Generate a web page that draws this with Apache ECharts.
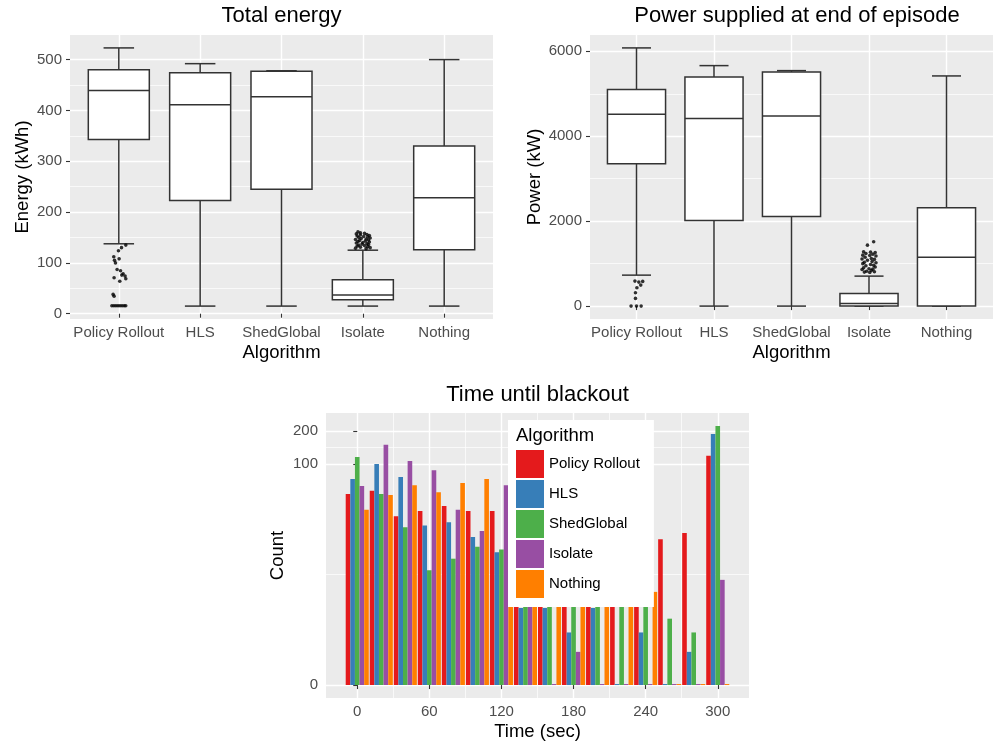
<!DOCTYPE html>
<html>
<head>
<meta charset="utf-8">
<script src="https://cdn.jsdelivr.net/npm/echarts@6/dist/echarts.min.js"></script>
<style>
html,body{margin:0;padding:0;background:#fff;}
#chart{width:998px;height:745px;}
</style>
</head>
<body>
<div id="chart"></div>
<script>
// ---------- DATA ----------
const categories = ['Policy Rollout', 'HLS', 'ShedGlobal', 'Isolate', 'Nothing'];

// Total energy (kWh) box statistics
const energyLow    = [137.6, 15, 15, 15, 15];
const energyQ1     = [343, 223, 245, 27.5, 126];
const energyMedian = [439, 411, 427, 36.6, 228];
const energyQ3     = [480, 474, 477, 67, 330];
const energyHigh   = [523, 492, 478, 125, 500];

// Energy outliers (value, jitter in category units)
const energyPolicyOutliers = [135, 130, 124, 112, 108, 105, 100, 87, 84.5, 78.6, 74, 76, 70.8, 64, 68.8, 38, 34.6, 15.7, 15.7, 15.7, 15.7, 15.7, 15.7, 15.7, 15.7];
const energyPolicyJitter   = [0.086, 0.033, -0.004, -0.062, 0.004, -0.053, -0.041, -0.021, 0.021, 0.053, 0.077, 0.037, -0.058, 0.012, 0.086, -0.070, -0.058, -0.085, -0.06, -0.035, -0.01, 0.015, 0.04, 0.065, 0.085];
const energyIsolateOutliers = [161, 159, 158, 157, 156, 155, 154, 153, 152, 151, 150, 149, 148, 147, 146, 145, 144, 143, 142, 141, 140, 139, 138, 137, 136, 135, 134, 133, 132, 131, 130, 129, 128];
const energyIsolateJitter   = [-0.06, -0.03, 0.02, -0.08, 0.05, -0.03, 0.08, -0.07, 0.01, 0.06, -0.05, 0.09, -0.02, 0.04, -0.09, 0.07, -0.04, 0.03, -0.06, 0.08, 0.00, -0.08, 0.05, -0.01, 0.07, -0.05, 0.02, -0.07, 0.06, -0.03, 0.09, -0.09, 0.04];

// Power supplied (kW) box statistics
const powerLow    = [729, 0, 0, 0, 0];
const powerQ1     = [3350, 2016, 2110, 0, 0];
const powerMedian = [4518, 4416, 4478, 60, 1153];
const powerQ3     = [5099, 5396, 5514, 295, 2315];
const powerHigh   = [6080, 5663, 5545, 706, 5420];

const powerPolicyOutliers = [588, 565, 581, 494, 431, 315, 181, 0, 0, 0];
const powerPolicyJitter   = [-0.02, 0.03, 0.08, 0.055, 0.005, -0.013, -0.013, -0.07, 0.0, 0.06];
const powerIsolateOutliers = [1515, 1435, 1280, 1270, 1260, 1240, 1220, 1200, 1190, 1180, 1150, 1120, 1110, 1100, 1080, 1050, 1030, 1020, 1000, 980, 960, 950, 920, 900, 880, 870, 860, 840, 820, 810, 800, 790];
const powerIsolateJitter   = [0.06, -0.02, -0.07, 0.02, 0.08, -0.04, 0.05, -0.08, 0.01, 0.09, -0.05, 0.03, -0.09, 0.07, -0.02, 0.04, -0.06, 0.09, -0.08, 0.02, 0.06, -0.04, 0.08, -0.07, 0.0, 0.05, -0.09, 0.03, -0.03, 0.07, -0.06, 0.01];

// Time until blackout histogram (bin centres in sec, counts)
const binCenters   = [0, 20, 40, 60, 80, 100, 120, 140, 160, 180, 200, 220, 240, 260, 280, 300];
const countsPolicy = [53, 57, 33, 37, 41, 37, 37, 30, 28, 26, 24, 22, 21, 20, 23, 119];
const countsHLS    = [73, 100, 76, 27, 29, 21, 15, 4, 4, 2, 4, 0, 2, 0, 1, 188];
const countsShed   = [116, 53, 26, 10, 13, 17, 16, 12, 10, 9, 8, 7, 6, 3, 2, 223];
const countsIsolate= [63, 150, 107, 88, 38, 24, 64, 12, 0, 1, 0, 0, 0, 0, 0, 8];
const countsNothing= [38, 52, 64, 55, 67, 73, 66, 55, 45, 35, 25, 15, 6, 0, 0, 0];

// Tick labels
const energyTicks = [0, 100, 200, 300, 400, 500];
const energyMinor = [50, 150, 250, 350, 450];
const powerTicks  = [0, 2000, 4000, 6000];
const powerMinor  = [1000, 3000, 5000];
const timeTicks   = [0, 60, 120, 180, 240, 300];
const timeMinor   = [30, 90, 150, 210, 270];
const countTicks  = [0, 100, 200];

// ---------- BUILD ----------
const colors = ['#E41A1C', '#377EB8', '#4DAF4A', '#984EA3', '#FF7F00'];
const FONT = '"Liberation Sans", Arial, Helvetica, sans-serif';
const catPos = categories.map((c, i) => i + 1);

// log1p transform for the count axis
const tr = v => Math.log1p(v);
const countTickPos = countTicks.map(tr);
const countAll = [].concat(countsPolicy, countsHLS, countsShed, countsIsolate, countsNothing);
const tMax = tr(Math.max.apply(null, countAll));
const countMin = -0.05 * tMax, countMax = tMax * 1.05;
// minor breaks: midpoints in transformed space
const countMinor = [];
for (let i = 0; i < countTickPos.length - 1; i++) countMinor.push((countTickPos[i] + countTickPos[i + 1]) / 2);

function boxData(lo, q1, md, q3, hi) {
  return catPos.map((x, i) => [x, lo[i], q1[i], md[i], q3[i], hi[i]]);
}
function jitterData(idx, vals, jit) {
  return vals.map((v, i) => [idx + jit[i], v]);
}

function renderBox(params, api) {
  const x = api.value(0);
  const lo = api.coord([x, api.value(1)]);
  const q1 = api.coord([x, api.value(2)]);
  const md = api.coord([x, api.value(3)]);
  const q3 = api.coord([x, api.value(4)]);
  const hi = api.coord([x, api.value(5)]);
  const bw = api.size([0.75, 0])[0];
  const cw = api.size([0.375, 0])[0];
  const ls = { stroke: '#333333', lineWidth: 1.5, fill: null };
  return {
    type: 'group',
    children: [
      { type: 'line', shape: { x1: lo[0], y1: lo[1], x2: q1[0], y2: q1[1] }, style: ls },
      { type: 'line', shape: { x1: hi[0], y1: hi[1], x2: q3[0], y2: q3[1] }, style: ls },
      { type: 'line', shape: { x1: lo[0] - cw / 2, y1: lo[1], x2: lo[0] + cw / 2, y2: lo[1] }, style: ls },
      { type: 'line', shape: { x1: hi[0] - cw / 2, y1: hi[1], x2: hi[0] + cw / 2, y2: hi[1] }, style: ls },
      { type: 'rect', shape: { x: q3[0] - bw / 2, y: q3[1], width: bw, height: q1[1] - q3[1] },
        style: { fill: '#ffffff', stroke: '#333333', lineWidth: 1.5 } },
      { type: 'line', shape: { x1: md[0] - bw / 2, y1: md[1], x2: md[0] + bw / 2, y2: md[1] }, style: ls }
    ]
  };
}

const labelStyle = { color: '#4D4D4D', fontSize: 15, fontFamily: FONT };
const nameStyle = { color: '#000000', fontSize: 18.5, fontFamily: FONT };
const tickStyle = { show: true, length: 4, lineStyle: { color: '#333333', width: 1.1 } };
const majorSplit = { show: true, lineStyle: { color: '#FFFFFF', width: 1.4 } };
const minorSplit = { show: true, lineStyle: { color: '#FFFFFF', width: 0.7 } };
const plain = v => String(v);

function mainAxis(extra) {
  return Object.assign({
    type: 'value',
    axisLine: { show: false },
    splitArea: { show: false }
  }, extra);
}
function minorAxis(gridIndex, min, max, vals, pos) {
  return {
    type: 'value', gridIndex: gridIndex, min: min, max: max, position: pos,
    axisLine: { show: false },
    axisLabel: { show: false },
    axisTick: { show: false, customValues: vals },
    splitLine: minorSplit
  };
}

const catFormatter = v => categories[Math.round(v) - 1] || '';

const option = {
  animation: false,
  textStyle: { fontFamily: FONT },
  color: colors,
  grid: [
    { left: 70, top: 35, width: 423, height: 284, show: true, backgroundColor: '#EBEBEB', borderWidth: 0, outerBoundsMode: 'none' },
    { left: 590, top: 35, width: 403, height: 284, show: true, backgroundColor: '#EBEBEB', borderWidth: 0, outerBoundsMode: 'none' },
    { left: 326, top: 413, width: 423, height: 285, show: true, backgroundColor: '#EBEBEB', borderWidth: 0, outerBoundsMode: 'none' }
  ],
  xAxis: [
    mainAxis({ gridIndex: 0, min: 0.4, max: 5.6,
      axisTick: Object.assign({ customValues: catPos }, tickStyle),
      axisLabel: Object.assign({ customValues: catPos, formatter: catFormatter, margin: 6 }, labelStyle),
      splitLine: majorSplit,
      name: 'Algorithm', nameLocation: 'middle', nameGap: 24, nameTextStyle: nameStyle }),
    mainAxis({ gridIndex: 1, min: 0.4, max: 5.6,
      axisTick: Object.assign({ customValues: catPos }, tickStyle),
      axisLabel: Object.assign({ customValues: catPos, formatter: catFormatter, margin: 6 }, labelStyle),
      splitLine: majorSplit,
      name: 'Algorithm', nameLocation: 'middle', nameGap: 24, nameTextStyle: nameStyle }),
    mainAxis({ gridIndex: 2, min: -26, max: 326,
      axisTick: Object.assign({ customValues: timeTicks }, tickStyle),
      axisLabel: Object.assign({ customValues: timeTicks, margin: 6, formatter: plain }, labelStyle),
      splitLine: majorSplit,
      name: 'Time (sec)', nameLocation: 'middle', nameGap: 24, nameTextStyle: nameStyle }),
    minorAxis(2, -26, 326, timeMinor, 'bottom')
  ],
  yAxis: [
    mainAxis({ gridIndex: 0, min: -10.4, max: 548.4,
      axisTick: Object.assign({ customValues: energyTicks }, tickStyle),
      axisLabel: Object.assign({ customValues: energyTicks, margin: 8, formatter: plain }, labelStyle),
      splitLine: majorSplit,
      name: 'Energy (kWh)', nameLocation: 'middle', nameGap: 38, nameTextStyle: nameStyle }),
    minorAxis(0, -10.4, 548.4, energyMinor, 'left'),
    mainAxis({ gridIndex: 1, min: -304, max: 6384,
      axisTick: Object.assign({ customValues: powerTicks }, tickStyle),
      axisLabel: Object.assign({ customValues: powerTicks, margin: 8, formatter: plain }, labelStyle),
      splitLine: majorSplit,
      name: 'Power (kW)', nameLocation: 'middle', nameGap: 46, nameTextStyle: nameStyle }),
    minorAxis(1, -304, 6384, powerMinor, 'left'),
    mainAxis({ gridIndex: 2, min: countMin, max: countMax,
      axisTick: Object.assign({ customValues: countTickPos }, tickStyle),
      axisLabel: Object.assign({ customValues: countTickPos, margin: 8,
        formatter: v => String(Math.round(Math.expm1(v))) }, labelStyle),
      splitLine: majorSplit,
      name: 'Count', nameLocation: 'middle', nameGap: 39, nameTextStyle: nameStyle }),
    minorAxis(2, countMin, countMax, countMinor, 'left')
  ],
  legend: {
    show: true,
    orient: 'vertical',
    left: 508, top: 420,
    padding: [30, 14, 9, 8],
    itemWidth: 28, itemHeight: 28, itemGap: 2,
    icon: 'rect',
    selectedMode: false,
    backgroundColor: '#FFFFFF',
    textStyle: { color: '#000000', fontSize: 15, fontFamily: FONT },
    data: categories
  },
  graphic: [
    { type: 'text', x: 281.5, y: 15.5, z: 100,
      style: { text: 'Total energy', font: '22px ' + FONT, fill: '#000', textAlign: 'center', textVerticalAlign: 'middle', align: 'center', verticalAlign: 'middle' } },
    { type: 'text', x: 797, y: 15.5, z: 100,
      style: { text: 'Power supplied at end of episode', font: '22px ' + FONT, fill: '#000', textAlign: 'center', textVerticalAlign: 'middle', align: 'center', verticalAlign: 'middle' } },
    { type: 'text', x: 537.5, y: 395, z: 100,
      style: { text: 'Time until blackout', font: '22px ' + FONT, fill: '#000', textAlign: 'center', textVerticalAlign: 'middle', align: 'center', verticalAlign: 'middle' } },
    { type: 'text', x: 516, y: 435.5, z: 100,
      style: { text: 'Algorithm', font: '18.5px ' + FONT, fill: '#000', textAlign: 'left', textVerticalAlign: 'middle', align: 'left', verticalAlign: 'middle' } }
  ],
  series: [
    { type: 'custom', name: 'energyBox', xAxisIndex: 0, yAxisIndex: 0, renderItem: renderBox,
      encode: { x: 0, y: [1, 2, 3, 4, 5] }, data: boxData(energyLow, energyQ1, energyMedian, energyQ3, energyHigh), z: 3 },
    { type: 'scatter', name: 'energyOut1', xAxisIndex: 0, yAxisIndex: 0, symbolSize: 3.6,
      itemStyle: { color: '#000000' }, data: jitterData(1, energyPolicyOutliers, energyPolicyJitter), z: 4 },
    { type: 'scatter', name: 'energyOut4', xAxisIndex: 0, yAxisIndex: 0, symbolSize: 3.6,
      itemStyle: { color: '#000000' }, data: jitterData(4, energyIsolateOutliers, energyIsolateJitter), z: 4 },
    { type: 'custom', name: 'powerBox', xAxisIndex: 1, yAxisIndex: 2, renderItem: renderBox,
      encode: { x: 0, y: [1, 2, 3, 4, 5] }, data: boxData(powerLow, powerQ1, powerMedian, powerQ3, powerHigh), z: 3 },
    { type: 'scatter', name: 'powerOut1', xAxisIndex: 1, yAxisIndex: 2, symbolSize: 3.6,
      itemStyle: { color: '#000000' }, data: jitterData(1, powerPolicyOutliers, powerPolicyJitter), z: 4 },
    { type: 'scatter', name: 'powerOut4', xAxisIndex: 1, yAxisIndex: 2, symbolSize: 3.6,
      itemStyle: { color: '#000000' }, data: jitterData(4, powerIsolateOutliers, powerIsolateJitter), z: 4 }
  ].concat([countsPolicy, countsHLS, countsShed, countsIsolate, countsNothing].map((arr, si) => ({
    type: 'bar',
    name: categories[si],
    xAxisIndex: 2, yAxisIndex: 4,
    barGap: '0%',
    barCategoryGap: '4%',
    barMinHeight: 1,
    itemStyle: { color: colors[si] },
    data: binCenters.map((b, i) => [b, tr(arr[i])]),
    z: 2
  })))
};

const chart = echarts.init(document.getElementById('chart'), null, { renderer: 'canvas' });
chart.setOption(option);
</script>
</body>
</html>
